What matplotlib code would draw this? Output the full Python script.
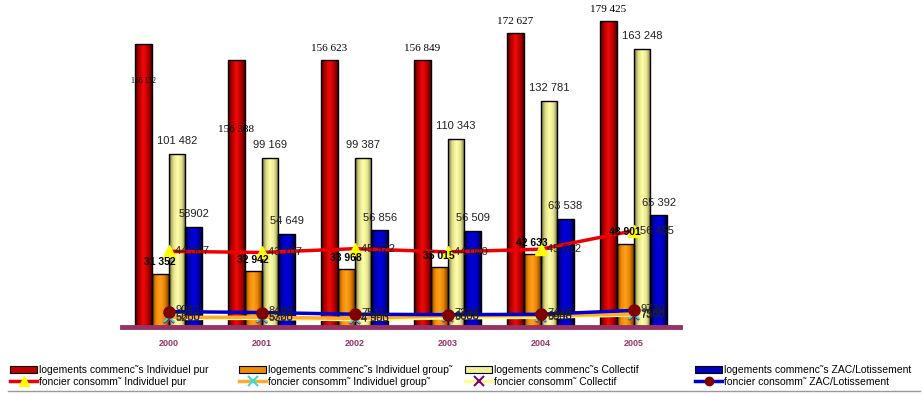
import numpy as np
import matplotlib
matplotlib.use("Agg")
import matplotlib.pyplot as plt
from matplotlib.colors import LinearSegmentedColormap
from matplotlib.patches import Patch
from matplotlib.lines import Line2D

years = ["2000", "2001", "2002", "2003", "2004", "2005"]
log_ind_pur = [166152, 156388, 156623, 156849, 172627, 179425]
log_ind_grp = [31352, 32942, 33968, 35015, 42633, 48901]
log_collectif = [101482, 99169, 99387, 110343, 132781, 163248]
log_zac = [58902, 54649, 56856, 56509, 63538, 65392]
fon_ind_pur = [44367, 43707, 45922, 44040, 45612, 56455]
fon_ind_grp = [5660, 5728, 4993, 6633, 6646, 7588]
fon_collectif = [5200, 5300, 4500, 5600, 5900, 7300]
fon_zac = [9042, 8496, 7511, 7228, 7448, 9730]

lab_ind_pur = ["166 152", "156 388", "156 623", "156 849", "172 627", "179 425"]
lab_ind_grp = ["31 352", "32 942", "33 968", "35 015", "42 633", "48 901"]
lab_collectif = ["101 482", "99 169", "99 387", "110 343", "132 781", "163 248"]
lab_zac = ["58902", "54 649", "56 856", "56 509", "63 538", "65 392"]
lab_fon_pur = ["44 367", "43 707", "45 922", "44 040", "45 612", "56 455"]
lab_fon_grp = ["5660", "5728", "4 993", "6633", "6646", "7588"]
lab_fon_col = ["5200", "5300", "4 500", "5600", "5900", "7300"]
lab_fon_zac = ["9042", "8496", "7511", "7228", "7448", "9730"]

leg_labels = [
    "logements commenc\u02dcs Individuel pur", "foncier consomm\u02dc Individuel pur",
    "logements commenc\u02dcs Individuel group\u02dc", "foncier consomm\u02dc Individuel group\u02dc",
    "logements commenc\u02dcs Collectif", "foncier consomm\u02dc Collectif",
    "logements commenc\u02dcs ZAC/Lotissement", "foncier consomm\u02dc ZAC/Lotissement",
]

plt.rcParams['font.family'] = ['Liberation Sans', 'DejaVu Sans']

W, H = 923, 394
fig = plt.figure(figsize=(W / 100, H / 100), dpi=100)
ax = fig.add_axes([122 / W, 1 - 327 / H, (680 - 122) / W, (327 - 3) / H])

x = np.arange(len(years))
bw = 0.18
offs = [-1.5, -0.5, 0.5, 1.5]
series = [log_ind_pur, log_ind_grp, log_collectif, log_zac]
grads = [
    ['#500000', '#b80000', '#f00a0a', '#c00000', '#580000'],
    ['#804000', '#f08c00', '#ffa020', '#e88400', '#804000'],
    ['#70703a', '#e0e088', '#ffffaa', '#e4e490', '#70703a'],
    ['#000040', '#0000b8', '#0000e0', '#0000c0', '#000048'],
]
solid = ['#c00000', '#f08c00', '#f0f098', '#0000c0']

all_bars = []
for k, (vals, g) in enumerate(zip(series, grads)):
    bars = ax.bar(x + offs[k] * bw, vals, bw, facecolor='none', edgecolor='black', linewidth=1.0, zorder=3)
    cmap = LinearSegmentedColormap.from_list('g%d' % k, g)
    grad = np.linspace(0, 1, 64).reshape(1, -1)
    for p in bars:
        im = ax.imshow(grad, extent=(p.get_x(), p.get_x() + p.get_width(), 0, p.get_height()),
                       cmap=cmap, aspect='auto', zorder=2, interpolation='bilinear')
        im.set_clip_path(p)
    all_bars.append(bars)

# lines
ax.plot(x, fon_collectif, color='#ffff99', lw=3, marker='x', mec='#800080', ms=7, mew=1.5, zorder=5)
ax.plot(x, fon_ind_grp, color='#ffaa33', lw=2.5, marker='x', mec='#33dddd', ms=7, mew=1.5, zorder=6)
ax.plot(x, fon_zac, color='#0000cc', lw=2.5, marker='o', mfc='#800000', mec='#800000', ms=8, zorder=7)
ax.plot(x, fon_ind_pur, color='#ee0000', lw=2.5, marker='^', mfc='#ffff00', mec='#ffff00', ms=8, zorder=8)

# bar labels
for i, p in enumerate(all_bars[0]):
    cx = p.get_x() + p.get_width() / 2
    if i == 0:
        ax.annotate(lab_ind_pur[i], (cx, p.get_height()), xytext=(0, -27), textcoords='offset points',
                    ha='center', va='center', fontsize=5.5, family='Liberation Serif', zorder=10)
    elif i == 1:
        ax.annotate(lab_ind_pur[i], (cx, p.get_height()), xytext=(0, -50), textcoords='offset points',
                    ha='center', va='center', fontsize=8, family='Liberation Serif', zorder=10)
    else:
        ax.annotate(lab_ind_pur[i], (cx, p.get_height()), xytext=(0, 8), textcoords='offset points',
                    ha='center', va='center', fontsize=8, family='Liberation Serif', zorder=10)
for labs, bars in [(lab_collectif, all_bars[2]), (lab_zac, all_bars[3])]:
    for lab, p in zip(labs, bars):
        ax.annotate(lab, (p.get_x() + p.get_width() / 2, p.get_height()), xytext=(0, 9),
                    textcoords='offset points', ha='center', va='center', fontsize=8,
                    color='#202020', zorder=10)
for lab, p in zip(lab_ind_grp, all_bars[1]):
    ax.annotate(lab, (p.get_x() + p.get_width() / 2, p.get_height()), xytext=(0, 8),
                textcoords='offset points', ha='center', va='center', fontsize=7.5,
                fontweight='bold', zorder=10)

# line labels
for labs, vals, dy in [(lab_fon_pur, fon_ind_pur, 0), (lab_fon_zac, fon_zac, 1),
                       (lab_fon_grp, fon_ind_grp, 0), (lab_fon_col, fon_collectif, 0)]:
    for i, (lab, v) in enumerate(zip(labs, vals)):
        ax.annotate(lab, (x[i], v), xytext=(5, dy), textcoords='offset points', ha='left',
                    va='center', fontsize=8, color='#202020', zorder=10)

ax.axhline(0, color='#993366', lw=3.5, clip_on=False, zorder=9)
ax.set_xlim(-0.5, 5.5)
ax.set_ylim(0, 190000)
for s in ax.spines.values():
    s.set_visible(False)
ax.set_yticks([])
ax.set_xticks(x)
ax.set_xticklabels(years, fontsize=6.5, fontweight='bold', color='#993366')
ax.tick_params(axis='x', length=0, pad=9)

# legends
fsz = 7.5
bar_handles = [Patch(facecolor=c, edgecolor='black', lw=0.8) for c in solid]
line_handles = [
    Line2D([], [], color='#ee0000', lw=2.5, marker='^', mfc='#ffff00', mec='#ffff00', ms=7),
    Line2D([], [], color='#ffaa33', lw=2.5, marker='x', mec='#33dddd', ms=7, mew=1.5),
    Line2D([], [], color='#ffff99', lw=2.5, marker='x', mec='#800080', ms=7, mew=1.5),
    Line2D([], [], color='#0000cc', lw=2.5, marker='o', mfc='#800000', mec='#800000', ms=6),
]
xs = [10, 239, 465, 695]
for k in range(4):
    fig.legend([bar_handles[k], line_handles[k]], leg_labels[2 * k:2 * k + 2],
               loc='center left', bbox_to_anchor=(xs[k] / W, 1 - 376 / H),
               frameon=False, fontsize=fsz, handlelength=2.6, handletextpad=0.2,
               labelspacing=0.2, borderpad=0, borderaxespad=0)
fig.add_artist(Line2D([8 / W, 920 / W], [1 - 391 / H, 1 - 391 / H], color='#999999', lw=1))

fig.savefig('out.png', dpi=100)
